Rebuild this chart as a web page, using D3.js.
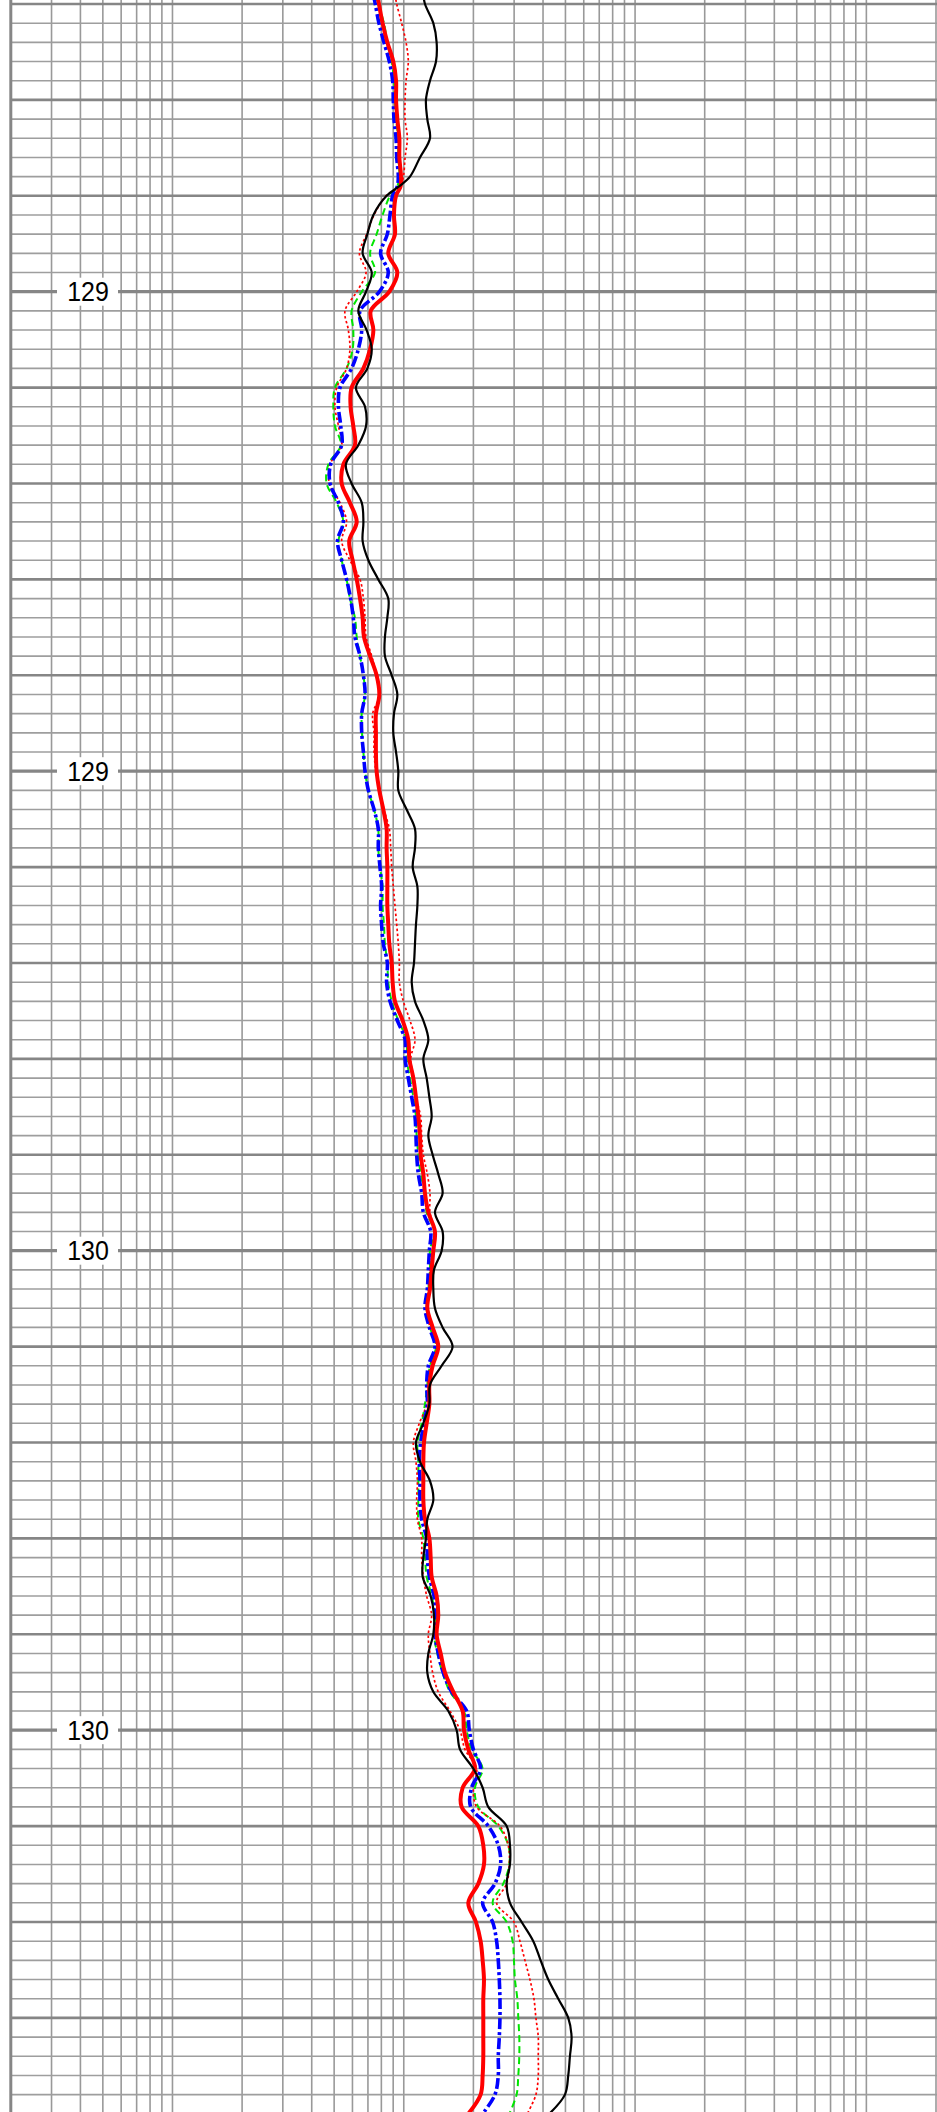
<!DOCTYPE html>
<html>
<head>
<meta charset="utf-8">
<script src="https://cdn.jsdelivr.net/npm/d3@7"></script>
<style>
  html, body { margin: 0; padding: 0; background: #fff; }
  svg { display: block; }
</style>
</head>
<body>
<div id="chart"></div>
<script>
// Depth samples (same length for every curve)
const depth = [
  128.44,128.45,128.47,128.49,128.51,128.53,128.55,128.57,128.59,128.61,
  128.63,128.64,128.65,128.67,128.69,128.71,128.73,128.75,128.77,128.79,
  128.81,128.83,128.85,128.87,128.89,128.91,128.93,128.95,128.97,128.99,
  129.01,129.03,129.05,129.07,129.09,129.11,129.13,129.15,129.17,129.19,
  129.21,129.23,129.25,129.27,129.29,129.31,129.33,129.35,129.37,129.39,
  129.41,129.43,129.45,129.47,129.49,129.51,129.53,129.55,129.57,129.59,
  129.61,129.63,129.65,129.67,129.69,129.71,129.73,129.75,129.77,129.79,
  129.81,129.83,129.85,129.87,129.89,129.91,129.93,129.95,129.97,129.99,
  130.01,130.03,130.05,130.07,130.09,130.11,130.13,130.15,130.17,130.19,
  130.21,130.23,130.25,130.27,130.29,130.31,130.33,130.35,130.37,130.39,
  130.41,130.43,130.45,130.47,130.49,130.51,130.53,130.55,130.57,130.59,
  130.61,130.63,130.65
];

// Resistivity curves, ohm-m
const at90 = [
  12.15,12.35,13.42,13.87,13.78,12.98,12.47,12.64,12.98,11.75,
  10.64,9.57,8.43,7.39,6.96,6.64,7.27,6.87,6.36,6.91,
  7.27,6.96,6.21,6.80,6.87,6.36,5.62,5.95,6.58,6.69,
  6.64,7.03,7.76,8.57,8.49,8.29,8.29,8.87,9.38,9.07,
  9.01,9.26,9.47,9.47,10.29,11.18,11.18,10.93,11.45,11.45,
  11.29,11.18,11.07,10.82,11.18,12.15,12.77,12.15,12.56,12.90,
  13.20,12.77,13.33,14.10,14.72,13.64,14.72,14.58,13.51,13.42,
  13.64,14.72,16.26,14.58,12.98,12.90,12.15,11.29,11.75,12.98,
  13.42,12.64,12.47,12.15,12.07,13.07,13.51,13.42,12.77,12.64,
  13.42,15.58,16.93,17.50,19.98,21.93,23.19,27.84,28.78,28.78,
  27.84,28.78,32.32,36.30,39.05,42.14,46.55,51.42,53.15,52.28,
  51.42,49.75,42.57
];
const at10 = [
  7.68,7.81,8.10,8.49,9.01,9.26,9.26,9.38,9.57,9.57,
  9.73,9.69,9.26,9.07,9.16,8.57,9.38,8.66,7.20,7.39,
  7.15,6.69,5.95,5.89,6.05,6.15,5.48,5.39,5.85,6.26,
  5.81,6.01,6.26,6.47,6.64,6.73,7.15,7.63,7.84,7.58,
  7.58,7.58,7.63,7.84,8.16,8.43,8.43,8.49,8.49,8.49,
  8.57,8.66,8.87,8.95,9.16,9.89,10.46,10.57,11.00,11.29,
  11.56,11.75,11.83,12.15,12.35,12.77,13.64,13.42,13.20,12.98,
  12.64,13.33,14.10,13.33,12.90,12.90,12.56,12.23,12.15,12.15,
  12.15,12.35,12.90,13.07,13.20,13.87,14.10,13.87,14.44,15.07,
  16.37,17.97,18.21,19.01,20.31,17.97,17.79,21.00,22.07,22.22,
  21.00,19.01,20.51,21.49,21.93,22.22,22.07,22.07,22.07,22.07,
  21.93,21.49,19.01
];
const at20 = [
  7.39,7.53,7.81,8.21,8.66,8.95,9.01,9.07,9.26,9.32,
  9.47,9.38,8.95,8.72,8.49,7.94,8.57,7.84,6.47,6.58,
  6.36,5.95,5.30,5.22,5.34,5.39,4.83,4.80,5.22,5.48,
  5.17,5.39,5.66,5.89,6.05,6.15,6.47,6.69,6.80,6.58,
  6.58,6.69,6.80,7.03,7.44,7.76,7.76,7.89,8.02,7.94,
  8.02,8.16,8.49,8.43,8.72,9.38,10.13,10.13,10.46,10.82,
  11.18,11.29,11.37,11.56,11.95,12.15,13.07,12.90,12.77,12.64,
  12.35,12.90,13.64,12.77,12.56,12.64,12.23,11.83,11.68,11.75,
  11.75,11.95,12.56,12.64,12.90,13.51,13.78,13.64,14.10,14.82,
  16.10,18.70,19.20,19.98,21.49,19.65,19.46,23.19,25.62,26.22,
  24.79,21.93,24.22,25.20,25.62,25.88,26.05,26.05,25.88,25.62,
  25.62,24.79,21.93
];
const at30 = [
  7.53,7.76,8.21,8.49,8.87,9.07,9.16,9.26,9.47,9.47,
  9.57,9.38,8.72,8.10,7.63,7.15,7.51,6.58,5.95,6.05,
  6.01,5.66,5.04,4.96,5.04,5.34,4.72,4.64,5.13,5.48,
  5.22,5.39,5.66,5.85,6.15,6.26,6.47,6.69,6.80,6.58,
  6.60,6.69,6.80,7.03,7.44,7.76,7.76,7.89,8.10,8.10,
  8.21,8.29,8.49,8.57,8.87,9.47,10.29,10.29,10.64,11.00,
  11.29,11.37,11.56,11.83,12.35,12.56,13.51,12.98,12.98,12.77,
  12.56,12.98,13.78,12.98,12.64,12.35,11.95,11.45,11.56,11.56,
  11.56,11.56,12.15,12.35,12.56,13.20,13.64,13.51,13.96,14.72,
  15.84,18.21,18.70,19.65,21.93,20.31,21.00,25.62,28.30,28.59,
  26.93,24.22,27.84,29.55,29.95,30.25,30.96,31.27,31.58,31.58,
  31.27,30.75,28.59
];
const at60 = [
  9.16,9.32,9.79,10.23,10.46,10.23,10.13,10.13,10.36,10.13,
  9.96,9.63,8.38,7.44,6.91,6.43,6.87,6.26,5.57,5.76,
  5.85,5.66,5.13,5.04,5.22,5.39,4.80,4.77,5.30,5.66,
  5.39,5.85,6.47,6.69,6.80,6.87,7.27,7.63,7.89,7.34,
  7.44,7.44,7.58,7.89,8.21,8.66,8.78,8.87,9.01,9.16,
  9.32,9.47,9.57,9.57,9.96,10.64,11.18,10.71,11.07,11.29,
  11.83,11.95,12.15,12.64,12.98,12.98,13.64,13.33,12.98,12.77,
  12.56,12.98,13.87,12.98,12.64,12.56,11.68,11.00,11.29,11.45,
  11.37,11.45,11.95,11.95,12.15,12.56,13.20,12.77,12.98,13.33,
  14.10,15.84,17.50,18.39,20.65,19.98,20.65,26.05,28.30,28.59,
  27.84,25.20,29.95,31.79,33.41,35.11,36.54,37.27,38.15,38.15,
  38.15,37.27,34.20
];

// Depth label positions and the resistivity track range
const labelDepths = [128.75, 129.25, 129.75, 130.25];
const resDomain = [0.2, 2000];

const W = 937, H = 2112;
const pxPerUnit = 959;
const dTop = 128.45 - 4 / pxPerUnit;
const dBot = dTop + H / pxPerUnit;

const x = d3.scaleLog().domain(resDomain).range([10.8, 936]);
const y = d3.scaleLinear().domain([dTop, dBot]).range([0, H]);

const svg = d3.select("#chart").append("svg")
  .attr("width", W).attr("height", H)
  .style("background", "#fff");

// Vertical logarithmic grid
const vLines = [];
for (let e = -1; e <= 3; e++) {
  for (let m = 1; m <= 9; m++) {
    const v = m * Math.pow(10, e);
    if (v >= 0.2 - 1e-9 && v <= 2000 + 1e-9) vLines.push(v);
  }
}
svg.append("g").selectAll("line").data(vLines).join("line")
  .attr("x1", d => x(d)).attr("x2", d => x(d))
  .attr("y1", 0).attr("y2", H)
  .attr("stroke", "#999").attr("stroke-width", 1.6);

// Horizontal depth grid: fine every 0.02, heavy every 0.1, label lines every 0.5
const hLines = d3.range(0, 111).map(k => ({ k, d: 128.45 + k * 0.02 }))
  .filter(o => y(o.d) <= H);
const hg = svg.append("g");
hg.selectAll("line.fine").data(hLines.filter(o => o.k % 5 !== 0)).join("line")
  .attr("class", "fine")
  .attr("x1", x(0.2)).attr("x2", W)
  .attr("y1", o => y(o.d)).attr("y2", o => y(o.d))
  .attr("stroke", "#9e9e9e").attr("stroke-width", 1.6);
hg.selectAll("line.heavy").data(hLines.filter(o => o.k % 5 === 0)).join("line")
  .attr("class", "heavy")
  .attr("x1", x(0.2)).attr("x2", W)
  .attr("y1", o => y(o.d)).attr("y2", o => y(o.d))
  .attr("stroke", "#868686")
  .attr("stroke-width", o => ((o.k - 15) % 25 === 0 ? 3.2 : 2.6));

// Track left border
svg.append("line")
  .attr("x1", x(0.2)).attr("x2", x(0.2))
  .attr("y1", 0).attr("y2", H)
  .attr("stroke", "#868686").attr("stroke-width", 3);

// Curves
const rows = depth.map((d, i) => i);
function curvePath(values) {
  return d3.line()
    .x(i => x(values[i]))
    .y(i => y(depth[i]))
    .curve(d3.curveCatmullRom.alpha(0.5))(rows);
}
const curves = [
  { values: at30, color: "#00e600", width: 2.0, dash: "7,4" },
  { values: at60, color: "#ff0000", width: 1.7, dash: "2.5,2.5" },
  { values: at20, color: "#0000ff", width: 3.6, dash: "11,3,3,3" },
  { values: at10, color: "#ff0000", width: 4.0, dash: null },
  { values: at90, color: "#000000", width: 2.2, dash: null }
];
const cg = svg.append("g");
curves.forEach(c => {
  cg.append("path")
    .attr("d", curvePath(c.values))
    .attr("fill", "none")
    .attr("stroke", c.color)
    .attr("stroke-width", c.width)
    .attr("stroke-linejoin", "round")
    .attr("stroke-dasharray", c.dash);
});

// Depth labels
const fmt = d3.format(".0f");
const lg = svg.append("g");
labelDepths.forEach(d => {
  const yy = y(d);
  lg.append("rect")
    .attr("x", 57).attr("y", yy - 14)
    .attr("width", 61).attr("height", 28)
    .attr("fill", "#fff");
  lg.append("text")
    .attr("transform", `translate(88,${yy}) scale(1,1.08)`)
    .attr("dy", "0.36em")
    .attr("text-anchor", "middle")
    .attr("font-family", "'Liberation Sans', Arial, sans-serif")
    .attr("font-size", 25)
    .attr("fill", "#000")
    .text(fmt(d));
});
</script>
</body>
</html>
